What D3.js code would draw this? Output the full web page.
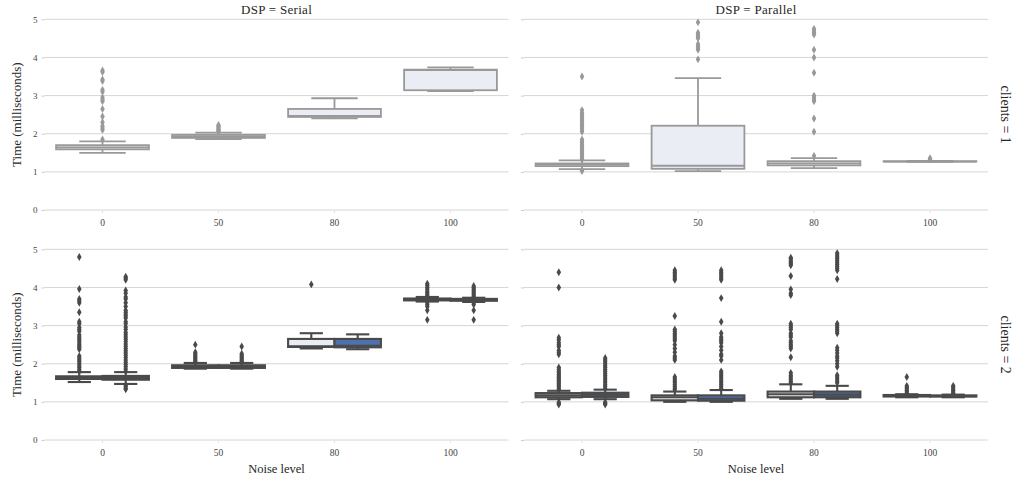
<!DOCTYPE html>
<html><head><meta charset="utf-8">
<script src="https://cdn.jsdelivr.net/npm/d3@7"></script>
<style>
html,body{margin:0;padding:0;background:#fff;}
svg{display:block;}
svg text{font-family:"Liberation Serif","DejaVu Serif",serif !important;}
</style></head>
<body><svg id="chart" width="1014" height="481"></svg>
<script>
// ---- data ----
const categories = ["0", "50", "80", "100"];
const yTickValues = [0, 1, 2, 3, 4, 5];
const colTitles = ["DSP = Serial", "DSP = Parallel"];
const rowTitles = ["clients = 1", "clients = 2"];
const hues = ["h1", "h2"];

// box stats: [lo whisker, q1, median, q3, hi whisker]
const serialC1Stats = {
  "0":   [1.50, 1.59, 1.64, 1.70, 1.80],
  "50":  [1.86, 1.89, 1.93, 1.97, 2.03],
  "80":  [2.40, 2.44, 2.47, 2.65, 2.93],
  "100": [3.12, 3.14, 3.67, 3.68, 3.74]
};
const serialC1Outliers = {
  "0":   [1.85, 2.1, 2.15, 2.2, 2.3, 2.45, 2.65, 2.85, 2.9, 2.95, 3.1, 3.15, 3.38, 3.42, 3.62, 3.66],
  "50":  [2.05, 2.08, 2.1, 2.12, 2.15, 2.18, 2.2, 2.23],
  "80":  [],
  "100": []
};
const parallelC1Stats = {
  "0":   [1.07, 1.15, 1.19, 1.22, 1.30],
  "50":  [1.02, 1.08, 1.16, 2.21, 3.46],
  "80":  [1.10, 1.17, 1.22, 1.28, 1.36],
  "100": [1.26, 1.27, 1.27, 1.28, 1.29]
};
const parallelC1Outliers = {
  "0":   [1.02, 1.04, 1.32, 1.36, 1.4, 1.44, 1.48, 1.52, 1.56, 1.6, 1.64, 1.68, 1.72, 1.76, 1.8, 1.85,
          2.05, 2.1, 2.15, 2.2, 2.25, 2.3, 2.35, 2.4, 2.45, 2.5, 2.55, 2.62, 3.5],
  "50":  [3.95, 4.2, 4.25, 4.3, 4.35, 4.5, 4.55, 4.6, 4.65, 4.92],
  "80":  [1.42, 2.05, 2.4, 2.85, 2.9, 2.95, 3.0, 3.6, 4.0, 4.2, 4.6, 4.65, 4.7, 4.75],
  "100": [1.32, 1.34, 1.36]
};
const serialC2StatsH1 = {
  "0":   [1.52, 1.60, 1.63, 1.67, 1.78],
  "50":  [1.87, 1.89, 1.92, 1.96, 2.02],
  "80":  [2.40, 2.44, 2.46, 2.65, 2.80],
  "100": [3.63, 3.66, 3.69, 3.71, 3.75]
};
const serialC2OutliersH1 = {
  "0":   [1.8, 1.85, 1.9, 1.95, 2.0, 2.05, 2.1, 2.15, 2.2, 2.38, 2.42, 2.46, 2.5, 2.55, 2.6, 2.65, 2.7,
          2.75, 2.85, 2.9, 2.95, 3.05, 3.1, 3.35, 3.6, 3.65, 3.7, 3.96, 4.8],
  "50":  [2.05, 2.08, 2.12, 2.15, 2.18, 2.22, 2.26, 2.3, 2.5],
  "80":  [4.08],
  "100": [3.15, 3.4, 3.5, 3.55, 3.6, 3.78, 3.82, 3.86, 3.9, 3.95, 4.0, 4.05, 4.1]
};
const serialC2StatsH2 = {
  "0":   [1.47, 1.58, 1.63, 1.68, 1.78],
  "50":  [1.87, 1.89, 1.92, 1.96, 2.02],
  "80":  [2.38, 2.43, 2.47, 2.65, 2.77],
  "100": [3.62, 3.65, 3.68, 3.70, 3.73]
};
const serialC2OutliersH2 = {
  "0":   [1.33, 1.36, 1.4, 1.44, 1.8, 1.86, 1.92, 1.98, 2.04, 2.1, 2.16, 2.22, 2.28, 2.34, 2.4, 2.46, 2.52,
          2.58, 2.64, 2.7, 2.76, 2.82, 2.9, 2.96, 3.05, 3.1, 3.2, 3.25, 3.3, 3.35, 3.4, 3.5, 3.6, 3.7, 3.75,
          3.85, 3.92, 4.2, 4.25, 4.28],
  "50":  [2.05, 2.08, 2.12, 2.15, 2.18, 2.22, 2.26, 2.45],
  "80":  [],
  "100": [3.15, 3.4, 3.55, 3.6, 3.76, 3.8, 3.84, 3.88, 3.92, 3.96, 4.0, 4.04]
};
const parallelC2StatsH1 = {
  "0":   [1.07, 1.12, 1.17, 1.23, 1.29],
  "50":  [1.00, 1.04, 1.12, 1.17, 1.27],
  "80":  [1.08, 1.12, 1.20, 1.27, 1.46],
  "100": [1.12, 1.14, 1.16, 1.18, 1.20]
};
const parallelC2OutliersH1 = {
  "0":   [0.93, 0.96, 0.99, 1.32, 1.36, 1.4, 1.44, 1.48, 1.52, 1.56, 1.6, 1.64, 1.68, 1.72, 1.76, 1.8, 1.85,
          1.9, 2.25, 2.3, 2.35, 2.45, 2.5, 2.55, 2.62, 2.68, 4.0, 4.4],
  "50":  [1.32, 1.36, 1.4, 1.45, 1.5, 1.55, 1.6, 1.65, 2.1, 2.15, 2.2, 2.3, 2.4, 2.5, 2.6, 2.65, 2.7, 2.75,
          2.8, 2.85, 2.9, 3.25, 4.2, 4.25, 4.3, 4.35, 4.4, 4.45],
  "80":  [1.5, 1.55, 1.6, 1.65, 1.7, 1.76, 2.17, 2.4, 2.45, 2.5, 2.55, 2.6, 2.7, 2.75, 2.8, 2.9, 2.95, 3.0,
          3.05, 3.8, 3.85, 3.95, 4.3, 4.58, 4.62, 4.66, 4.7, 4.75, 4.78],
  "100": [1.22, 1.26, 1.3, 1.34, 1.38, 1.42, 1.65]
};
const parallelC2StatsH2 = {
  "0":   [1.07, 1.13, 1.19, 1.24, 1.32],
  "50":  [1.00, 1.03, 1.08, 1.17, 1.31],
  "80":  [1.08, 1.12, 1.19, 1.27, 1.42],
  "100": [1.12, 1.14, 1.15, 1.17, 1.19]
};
const parallelC2OutliersH2 = {
  "0":   [0.93, 0.96, 0.99, 1.35, 1.4, 1.45, 1.5, 1.55, 1.6, 1.65, 1.7, 1.75, 1.8, 1.85, 1.9, 1.95, 2.0, 2.05,
          2.1, 2.15],
  "50":  [1.35, 1.4, 1.45, 1.5, 1.55, 1.6, 1.65, 1.7, 1.75, 1.8, 2.1, 2.2, 2.25, 2.35, 2.45, 2.55, 2.6, 2.65,
          2.7, 2.8, 3.1, 3.72, 4.2, 4.25, 4.3, 4.35, 4.4, 4.45],
  "80":  [1.5, 1.55, 1.6, 1.65, 1.7, 1.92, 2.0, 2.08, 2.15, 2.2, 2.28, 2.35, 2.42, 2.8, 2.85, 2.9, 2.95, 3.0,
          3.05, 4.22, 4.45, 4.5, 4.55, 4.6, 4.65, 4.7, 4.75, 4.8, 4.85, 4.9],
  "100": [1.22, 1.26, 1.3, 1.34, 1.38, 1.42]
};

// ---- build panels ----
const panels = [
  {row: 0, col: 0, hueCount: 1, boxes: [{hue: 0, stats: serialC1Stats, out: serialC1Outliers}]},
  {row: 0, col: 1, hueCount: 1, boxes: [{hue: 0, stats: parallelC1Stats, out: parallelC1Outliers}]},
  {row: 1, col: 0, hueCount: 2, boxes: [{hue: 0, stats: serialC2StatsH1, out: serialC2OutliersH1},
                                        {hue: 1, stats: serialC2StatsH2, out: serialC2OutliersH2}]},
  {row: 1, col: 1, hueCount: 2, boxes: [{hue: 0, stats: parallelC2StatsH1, out: parallelC2OutliersH1},
                                        {hue: 1, stats: parallelC2StatsH2, out: parallelC2OutliersH2}]}
];

const colX = [[44.5, 508.5], [524, 988]];
const rowY = [[210, 19.3], [440, 249.3]];
const hueFill = ["#eaeef4", "#4c72b0"];
const rowLine = ["#999999", "#4a4a4a"];
const rowLineW = [1.8, 2.1];

const svg = d3.select("#chart");

panels.forEach(p => {
  const x = d3.scaleBand().domain(categories).range(colX[p.col]).paddingInner(0).paddingOuter(0);
  const y = d3.scaleLinear().domain([0, 5]).range(rowY[p.row]);
  const hueDomain = hues.slice(0, p.hueCount);
  const xs = d3.scaleBand().domain(hueDomain).range([x.bandwidth() * 0.1, x.bandwidth() * 0.9]);
  const g = svg.append("g");
  const lineC = rowLine[p.row];
  const lw = rowLineW[p.row];

  g.selectAll("line.grid").data(yTickValues).join("line")
    .attr("x1", colX[p.col][0]).attr("x2", colX[p.col][1])
    .attr("y1", d => y(d)).attr("y2", d => y(d))
    .attr("stroke", "#d6d6d6").attr("stroke-width", 1);

  const yAxis = d3.axisLeft(y).tickValues(yTickValues).tickSize(3).tickPadding(4).tickFormat(d3.format("d"));
  const ya = g.append("g").attr("transform", `translate(${colX[p.col][0]},0)`).call(yAxis);
  ya.select(".domain").remove();
  ya.selectAll("line").attr("stroke", "#cccccc");
  ya.selectAll("text").attr("fill", "#444").style("font-size", "9px")
    .attr("visibility", p.col === 0 ? "visible" : "hidden");

  const xAxis = d3.axisBottom(x).tickSize(3).tickPadding(6);
  const xa = g.append("g").attr("transform", `translate(0,${y(0)})`).call(xAxis);
  xa.select(".domain").remove();
  xa.selectAll("line").attr("stroke", "#e4e4e4");
  xa.selectAll("text").attr("fill", "#444").style("font-size", "9.5px");

  p.boxes.forEach(b => {
    const hueKey = hues[b.hue];
    const bw = xs.bandwidth();
    const left = c => x(c) + xs(hueKey);
    const mid = c => left(c) + bw / 2;
    const bg = g.append("g");
    categories.forEach(c => {
      const [lo, q1, med, q3, hi] = b.stats[c];
      bg.append("line").attr("x1", mid(c)).attr("x2", mid(c)).attr("y1", y(q3)).attr("y2", y(hi))
        .attr("stroke", lineC).attr("stroke-width", lw);
      bg.append("line").attr("x1", mid(c)).attr("x2", mid(c)).attr("y1", y(q1)).attr("y2", y(lo))
        .attr("stroke", lineC).attr("stroke-width", lw);
      [lo, hi].forEach(v => {
        bg.append("line").attr("x1", mid(c) - bw / 4).attr("x2", mid(c) + bw / 4)
          .attr("y1", y(v)).attr("y2", y(v)).attr("stroke", lineC).attr("stroke-width", lw);
      });
      bg.append("rect").attr("x", left(c)).attr("width", bw)
        .attr("y", y(q3)).attr("height", Math.max(0.1, y(q1) - y(q3)))
        .attr("fill", hueFill[b.hue]).attr("stroke", lineC).attr("stroke-width", lw);
      bg.append("line").attr("x1", left(c)).attr("x2", left(c) + bw)
        .attr("y1", y(med)).attr("y2", y(med)).attr("stroke", lineC).attr("stroke-width", lw);
      bg.selectAll(null).data(b.out[c]).join("path")
        .attr("d", d3.symbol(d3.symbolDiamond, 18))
        .attr("transform", d => `translate(${mid(c)},${y(d)})`)
        .attr("fill", lineC);
    });
  });

  if (p.row === 0) {
    svg.append("text").attr("x", (colX[p.col][0] + colX[p.col][1]) / 2).attr("y", 14)
      .attr("text-anchor", "middle").attr("fill", "#262626").style("font-size", "13px")
      .style("letter-spacing", "0.3px")
      .text(colTitles[p.col]);
  }
  if (p.row === 1) {
    svg.append("text").attr("x", (colX[p.col][0] + colX[p.col][1]) / 2).attr("y", 473)
      .attr("text-anchor", "middle").attr("fill", "#262626").style("font-size", "12.5px")
      .text("Noise level");
  }
  const cy = (rowY[p.row][0] + rowY[p.row][1]) / 2;
  if (p.col === 0) {
    svg.append("text").attr("transform", `translate(21,${cy}) rotate(-90)`)
      .attr("text-anchor", "middle").attr("fill", "#262626").style("font-size", "13px")
      .text("Time (milliseconds)");
  } else {
    svg.append("text").attr("transform", `translate(1001,${cy}) rotate(90)`)
      .attr("text-anchor", "middle").attr("fill", "#262626").style("font-size", "14px")
      .text(rowTitles[p.row]);
  }
});
</script>
</body></html>
